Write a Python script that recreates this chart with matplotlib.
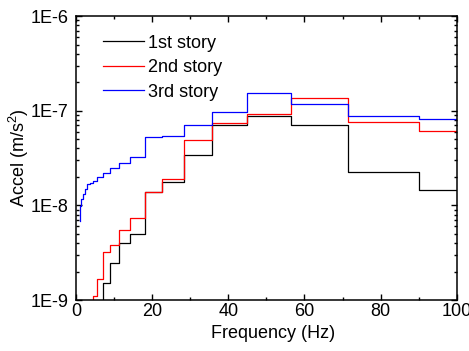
import numpy as np
import matplotlib.pyplot as plt

plt.rcParams['font.family'] = ['Liberation Sans', 'DejaVu Sans']
plt.rcParams['mathtext.fontset'] = 'custom'
plt.rcParams['mathtext.rm'] = 'Liberation Sans'
plt.rcParams['mathtext.it'] = 'Liberation Sans'

# 1/3 octave band centre frequencies (Hz)
freq = [1, 1.25, 1.6, 2, 2.5, 3.15, 4, 5, 6.3, 8, 10, 12.5, 16, 20,
        25, 31.5, 40, 50, 63, 80, 100]

# band acceleration (m/s^2); values under 1E-9 are off the chart
story1 = [5e-10, 5e-10, 5e-10, 5e-10, 5e-10, 5e-10, 5e-10, 5e-10, 5e-10,
          1.52e-9, 2.49e-9, 4.0e-9, 5.0e-9, 1.39e-8, 1.77e-8, 3.38e-8,
          7.06e-8, 8.79e-8, 7.06e-8, 2.23e-8, 1.45e-8]
story2 = [5e-10, 5e-10, 5e-10, 5e-10, 5e-10, 5e-10, 5e-10, 1.10e-9, 1.66e-9,
          3.24e-9, 3.86e-9, 5.49e-9, 7.35e-9, 1.39e-8, 1.90e-8, 4.90e-8,
          7.46e-8, 9.29e-8, 1.35e-7, 7.54e-8, 6.05e-8]
story3 = [6.88e-9, 9.84e-9, 1.16e-8, 1.31e-8, 1.48e-8, 1.67e-8, 1.73e-8,
          1.81e-8, 1.98e-8, 2.21e-8, 2.50e-8, 2.82e-8, 3.27e-8, 5.27e-8,
          5.40e-8, 7.11e-8, 9.80e-8, 1.55e-7, 1.18e-7, 8.79e-8, 8.17e-8]

fig = plt.figure(figsize=(4.69, 3.51), dpi=100)
ax = fig.add_axes([0.162, 0.145, 0.812, 0.809])

ax.step(freq, story1, where='mid', color='black', lw=0.9, label='1st story')
ax.step(freq, story2, where='mid', color='red', lw=0.9, label='2nd story')
ax.step(freq, story3, where='mid', color='blue', lw=0.9, label='3rd story')

ax.set_yscale('log')
ax.set_xlim(0, 100)
ax.set_ylim(1e-9, 1e-6)
ax.set_xticks([0, 20, 40, 60, 80, 100])
ax.set_xticks([10, 30, 50, 70, 90], minor=True)
ax.set_yticks([1e-9, 1e-8, 1e-7, 1e-6])
ax.set_yticklabels(['1E-9', '1E-8', '1E-7', '1E-6'])
ax.tick_params(which='both', direction='in', top=True, right=True,
               labelsize=13, width=1.0)
ax.tick_params(which='major', length=4.5)
ax.tick_params(which='minor', length=2.5)
ax.tick_params(axis='x', pad=2)
ax.tick_params(axis='y', pad=5.5)
for s in ax.spines.values():
    s.set_linewidth(1.1)

ax.set_xlabel('Frequency (Hz)', fontsize=13, labelpad=4)
ax.xaxis.label.set_x(0.517)
ax.set_ylabel(r'Accel (m/s$^2$)', fontsize=13)
ax.yaxis.set_label_coords(-0.118, 0.5)

ax.legend(loc='upper left', bbox_to_anchor=(0.07, 0.935), frameon=False,
          fontsize=13, handlelength=2.3, handletextpad=0.2,
          labelspacing=0.42, borderpad=0, borderaxespad=0)

plt.savefig('out.png', dpi=100)
